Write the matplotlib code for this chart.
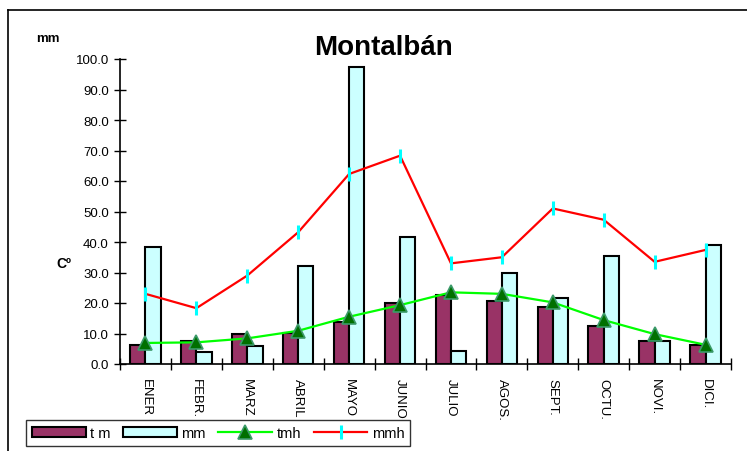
import matplotlib
matplotlib.use("Agg")
import matplotlib.pyplot as plt
import numpy as np
from matplotlib.patches import Patch
from matplotlib.lines import Line2D

plt.rcParams['font.family'] = ['Liberation Sans', 'DejaVu Sans']

months = ["ENER", "FEBR.", "MARZ", "ABRIL", "MAYO", "JUNIO", "JULIO", "AGOS.", "SEPT.", "OCTU.", "NOVI.", "DICI."]
tm = [6.2, 7.6, 10.0, 10.2, 13.7, 19.9, 22.6, 20.8, 18.8, 12.4, 7.7, 6.2]
mm = [38.2, 4.0, 6.0, 32.0, 97.3, 41.7, 4.4, 29.7, 21.5, 35.3, 7.7, 39.0]
tmh = [6.9, 7.1, 8.4, 10.9, 15.5, 19.3, 23.5, 23.0, 20.2, 14.4, 9.8, 6.3]
mmh = [23.0, 18.3, 29.0, 43.2, 62.3, 68.3, 33.0, 35.0, 51.0, 47.3, 33.5, 37.4]
yticks = [0, 10, 20, 30, 40, 50, 60, 70, 80, 90, 100]

W, H = 747, 452
fig = plt.figure(figsize=(W / 100, H / 100), dpi=100)
ax = fig.add_axes([120 / W, (H - 365) / H, (731 - 120) / W, (365 - 60) / H])

x = np.arange(len(months))
bw = 0.3
ax.bar(x - bw / 2, tm, width=bw, color="#993366", edgecolor="black", linewidth=1.5, zorder=2)
ax.bar(x + bw / 2, mm, width=bw, color="#CCFFFF", edgecolor="black", linewidth=1.5, zorder=2)
ax.plot(x, tmh, color="#00FF00", lw=1.6, marker="^", markersize=10,
        markerfacecolor="#007000", markeredgecolor="#3c9a6a", markeredgewidth=1.2, zorder=4)
ax.plot(x, mmh, color="#FF0000", lw=1.6, marker="|", markersize=10,
        markeredgecolor="#00FFFF", markeredgewidth=2.2, zorder=3)

ax.set_xlim(-0.5, len(months) - 0.5)
ax.set_ylim(0, 100)
ax.set_yticks(yticks)
ax.set_yticklabels([f"{v:.1f}" for v in yticks], fontsize=9.5)
ax.set_xticks(x)
ax.set_xticklabels(months, rotation=-90, fontsize=9.5, va="top")
ax.set_xticks(np.arange(-0.5, len(months), 1.0), minor=True)
ax.tick_params(axis="x", which="major", length=0, pad=10)
ax.tick_params(axis="x", which="minor", length=8, direction="inout", width=1)
ax.tick_params(axis="y", length=8, direction="inout", width=1, pad=4)
for s in ["top", "right"]:
    ax.spines[s].set_visible(False)
for s in ["left", "bottom"]:
    ax.spines[s].set_linewidth(1.2)
ax.patch.set_alpha(0)

# outer frame (top and left)
fig.add_artist(Line2D([8 / W, 1.0], [(H - 11) / H, (H - 11) / H], color="black", lw=1.2, transform=fig.transFigure))
fig.add_artist(Line2D([8 / W, 8 / W], [0, (H - 11) / H], color="black", lw=1.2, transform=fig.transFigure))

fig.text(383 / W, (H - 55) / H, "Montalbán", fontsize=20, fontweight="bold", ha="center", va="baseline")
fig.text(48 / W, (H - 39) / H, "mm", fontsize=9.5, fontweight="bold", ha="center", va="center")
fig.text(64 / W, (H - 264) / H, "Cº", fontsize=10, fontweight="bold", ha="center", va="center")

handles = [
    Patch(facecolor="#993366", edgecolor="black", linewidth=1.5),
    Patch(facecolor="#CCFFFF", edgecolor="black", linewidth=1.5),
    Line2D([], [], color="#00FF00", lw=1.6, marker="^", markersize=10,
           markerfacecolor="#007000", markeredgecolor="#3c9a6a", markeredgewidth=1.2),
    Line2D([], [], color="#FF0000", lw=1.6, marker="|", markersize=10,
           markeredgecolor="#00FFFF", markeredgewidth=2.2),
]
leg = fig.legend(handles, ["t m", "mm", "tmh", "mmh"], ncol=4, loc="lower left",
                 bbox_to_anchor=(26 / W, (H - 447) / H), fontsize=10.5, frameon=True,
                 fancybox=False, edgecolor="black", handlelength=3.7, handleheight=0.75,
                 handletextpad=0.3, columnspacing=0.85, borderpad=0.4, borderaxespad=0)
leg.get_frame().set_linewidth(1.0)

fig.savefig("out.png", dpi=100)
